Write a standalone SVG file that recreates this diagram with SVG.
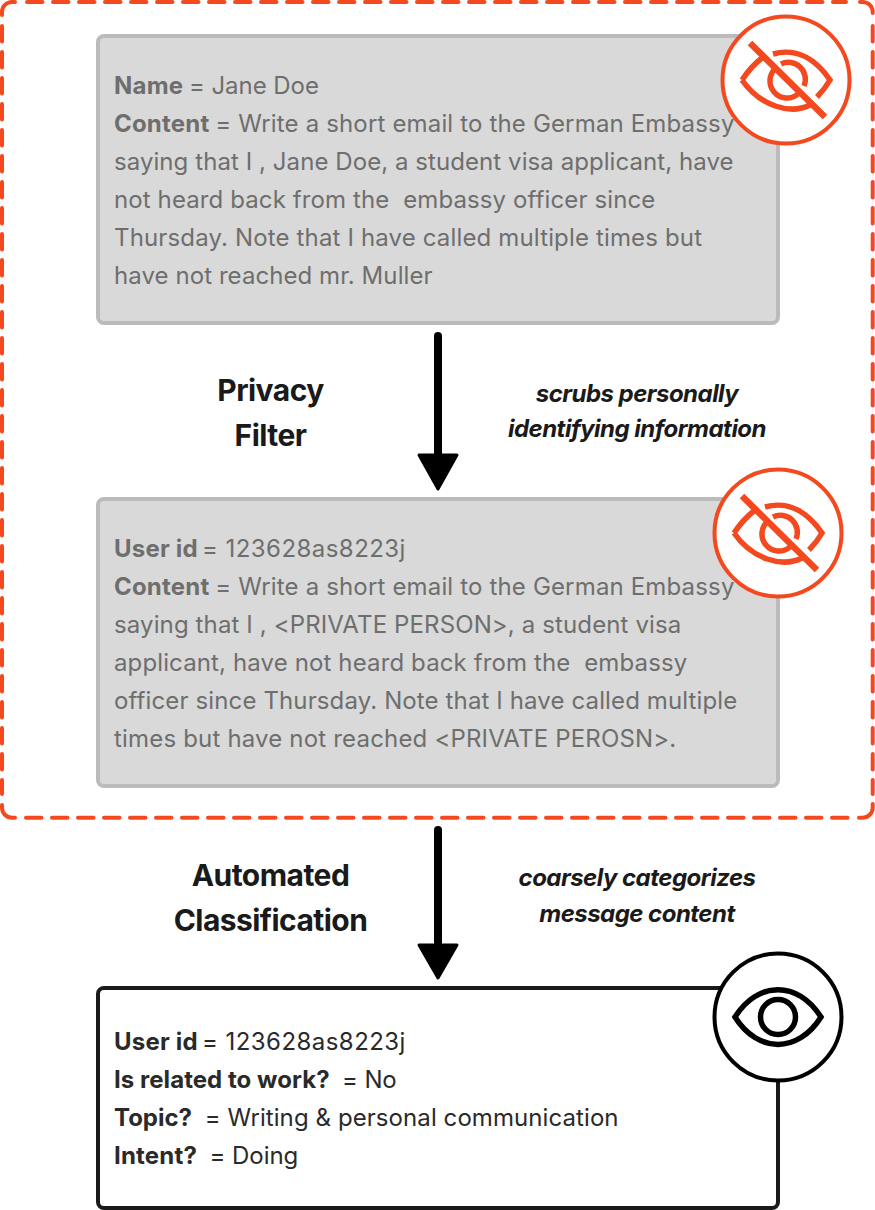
<svg xmlns="http://www.w3.org/2000/svg" width="875" height="1210" viewBox="0 0 875 1210">
<style>
text{font-family:Inter,"Liberation Sans",sans-serif}
.body{font-size:24px;fill:#2a2a2a}
.grey{fill:#6e6e6e}
.b{font-weight:700;letter-spacing:.2px}
.title{font-size:30px;font-weight:700;fill:#1a1a1a;text-anchor:middle;letter-spacing:-.55px}
.note{font-size:24px;font-weight:700;font-style:italic;fill:#1a1a1a;text-anchor:middle;letter-spacing:-.53px}
.boxg{fill:#d9d9d9;stroke:#bbb;stroke-width:4}
.boxw{fill:#fff;stroke:#1a1a1a;stroke-width:4}
.ring{fill:#fff;stroke-width:4}
.or{stroke:#f4491f;fill:none;stroke-width:5.5}
.bk{stroke:#000;fill:none;stroke-width:5.5}
.dash{fill:none;stroke:#f4491f;stroke-width:4;stroke-linecap:round;stroke-dasharray:15.5 10.5}
.corner{fill:none;stroke:#f4491f;stroke-width:4;stroke-linecap:round}
.shaft{stroke:#000;stroke-width:8;stroke-linecap:round}
.head{fill:#000;stroke:#000;stroke-width:3;stroke-linejoin:round}
</style>
<defs>
<g id="eyeoff">
<path d="M-13-26C12-33 31-19 44 0C40 7 36 12 31 17" class="or"/>
<path d="M-44 0C-38-9-32-16-24-22" class="or"/>
<path d="M-44 0C-26 26 4 35 24 25" class="or"/>
<path d="M-5-16A17 17 0 0 1 18 6" class="or"/>
<path d="M-10-12A17 17 0 0 0 12 14" class="or"/>
<path d="M-36-37L39 37" class="or" style="stroke-width:6.5"/>
</g>
</defs>
<g id="boundary">
<path class="dash" d="M27 2H846M26 817.7H848M2 26V794M872.7 26V794"/>
<path class="corner" d="M15 2H12A10 10 0 0 0 2 12V15M2 805V807.7A10 10 0 0 0 12 817.7H15M859 817.7H862.7A10 10 0 0 0 872.7 807.7V804M860 2H862.7A10 10 0 0 1 872.7 12V13"/>
</g>
<g id="connectors">
<path class="shaft" d="M438 336V460"/>
<path class="head" d="M419 455H457L438 489Z"/>
<path class="shaft" d="M438 830V950"/>
<path class="head" d="M419 945H457L438 978Z"/>
</g>
<g id="node-original">
<rect class="boxg" x="98" y="36" width="680" height="287" rx="6"/>
<text class="body grey" x="114" y="94" letter-spacing="-.05"><tspan class="b">Name</tspan><tspan dx="-1"> = Jane Doe</tspan></text>
<text class="body grey" x="114" y="132" letter-spacing=".16"><tspan class="b">Content</tspan><tspan dx="-1"> = Write a short email to the German Embassy</tspan></text>
<text class="body grey" x="114" y="170" letter-spacing=".07">saying that I , Jane Doe, a student visa applicant, have</text>
<text class="body grey" x="114" y="208" letter-spacing=".11" xml:space="preserve">not heard back from the  embassy officer since</text>
<text class="body grey" x="114" y="246" letter-spacing=".15">Thursday. Note that I have called multiple times but</text>
<text class="body grey" x="114" y="284" letter-spacing=".07">have not reached mr. Muller</text>
<g id="icon-private-1" transform="translate(786 80)">
<circle class="ring" r="63.5" stroke="#f4491f"/>
<use href="#eyeoff"/>
</g>
</g>
<g id="node-scrubbed">
<rect class="boxg" x="98" y="499" width="680" height="287" rx="6"/>
<text class="body grey" x="114" y="557" letter-spacing=".45"><tspan class="b">User id</tspan><tspan dx="-3"> = 123628as8223j</tspan></text>
<text class="body grey" x="114" y="595" letter-spacing=".16"><tspan class="b">Content</tspan><tspan dx="-1"> = Write a short email to the German Embassy</tspan></text>
<text class="body grey" x="114" y="633" letter-spacing=".125">saying that I , &lt;PRIVATE PERSON&gt;, a student visa</text>
<text class="body grey" x="114" y="671" letter-spacing=".125" xml:space="preserve">applicant, have not heard back from the  embassy</text>
<text class="body grey" x="114" y="709" letter-spacing=".125">officer since Thursday. Note that I have called multiple</text>
<text class="body grey" x="114" y="747" letter-spacing=".18">times but have not reached &lt;PRIVATE PEROSN&gt;.</text>
<g id="icon-private-2" transform="translate(778 533)">
<circle class="ring" r="63.5" stroke="#f4491f"/>
<use href="#eyeoff"/>
</g>
</g>
<g id="node-classified">
<rect class="boxw" x="98" y="988" width="680" height="220" rx="6"/>
<text class="body" x="114" y="1050" letter-spacing=".45"><tspan class="b">User id</tspan><tspan dx="-3"> = 123628as8223j</tspan></text>
<text class="body" x="114" y="1088" letter-spacing="-.1" xml:space="preserve"><tspan class="b" style="letter-spacing:.05px">Is related to work?</tspan><tspan dx="-1">  = No</tspan></text>
<text class="body" x="114" y="1126" letter-spacing=".08" xml:space="preserve"><tspan class="b" style="letter-spacing:0">Topic?</tspan><tspan dx="-1">  = Writing &amp; personal communication</tspan></text>
<text class="body" x="114" y="1164" letter-spacing="-.05" xml:space="preserve"><tspan class="b" style="letter-spacing:.2px">Intent?</tspan><tspan dx="-1">  = Doing</tspan></text>
<g id="icon-visible" transform="translate(778 1017)">
<circle class="ring" r="63.5" stroke="#000"/>
<path d="M-43 0C-20-36.5 20-36.5 43 0C20 36.5-20 36.5-43 0Z" class="bk"/>
<circle r="17.5" class="bk"/>
</g>
</g>
<g id="label-privacy">
<text class="title" x="270.5" y="401">Privacy</text>
<text class="title" x="270.5" y="446">Filter</text>
</g>
<g id="note-privacy">
<text class="note" x="637" y="402">scrubs personally</text>
<text class="note" x="637" y="437">identifying information</text>
</g>
<g id="label-classification">
<text class="title" x="270.5" y="886">Automated</text>
<text class="title" x="270.5" y="931">Classification</text>
</g>
<g id="note-classification">
<text class="note" x="637" y="886">coarsely categorizes</text>
<text class="note" x="637" y="922">message content</text>
</g>
</svg>
